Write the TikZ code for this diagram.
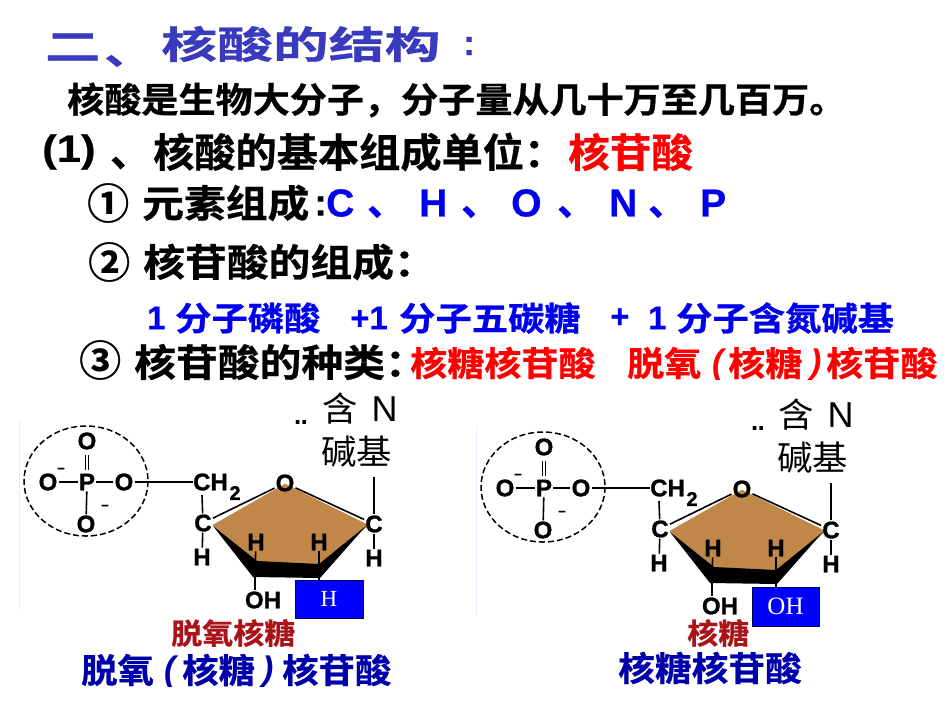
\documentclass[tikz,border=0pt]{standalone}
\usepackage{graphicx}
\usepackage{fontspec}
\setmainfont{Liberation Sans}[BoldFeatures={FakeBold=0.5}]
\newfontfamily\cjk{Noto Sans CJK SC}[BoldFont={Noto Sans CJK SC Bold},BoldFeatures={FakeBold=0.7}]
\newfontfamily\atomf{Liberation Sans}[BoldFeatures={FakeBold=1.2}]
\newfontfamily\boxf{Liberation Serif}
\usepackage{tikz}
\usetikzlibrary{calc}

\definecolor{titleblue}{RGB}{58,58,190}
\definecolor{unitblue}{RGB}{0,0,240}
\definecolor{namered}{RGB}{170,20,25}
\definecolor{namedark}{RGB}{0,0,170}
\definecolor{sugarbrown}{RGB}{192,135,72}

% horizontal stretch of a piece of text
\newcommand{\hs}[2]{\scalebox{#1}[1]{#2}}
% font size in px
\newcommand{\fs}[1]{\fontsize{#1}{#1}\selectfont}

\tikzset{
	txt/.style={anchor=west,inner sep=0pt,font=\bfseries},
	atom/.style={inner sep=1pt,font=\atomf\bfseries\fs{24}},
	bond/.style={line width=1.6pt,black},
	hbox/.style={draw=black!60!blue,fill=blue,text=white,inner sep=0pt,font=\boxf},
}

\begin{document}
\begin{tikzpicture}[x=1pt,y=-1pt]
	\useasboundingbox (0,0) rectangle (950,713);

	% title
	\node[txt,text=titleblue] (t1) at (45,47) {\cjk\fs{38}\hs{1.45}{二}};
	\node[txt,text=titleblue] (t1b) at (104,61) {\cjk\fs{38}\hs{1.3}{、}};
	\node[txt,text=titleblue] (t2) at (161,44) {\cjk\fs{38}\hs{1.47}{核酸的结构}};
	\node[txt,text=titleblue] (t3) at (463,46) {\fs{36}:};

	% text lines
	\node[txt] (l1) at (67,100) {\cjk\fs{35}\hs{1.06}{核酸是生物大分子，分子量从几十万至几百万。}};
	\node[txt] (l2a) at (42,152) {\fs{38}\hs{1.15}{(1)}};
	\node[txt] (l2b) at (110,163) {\cjk\fs{40}{、}};
	\node[txt] (l2c) at (153,152) {\cjk\fs{40}\hs{1.03}{核酸的基本组成单位：}};
	\node[txt,text=red] (l2d) at (568,152) {\cjk\fs{40}\hs{1.04}{核苷酸}};

	\node[txt] (n1) at (87,203) {\cjk\fs{42}①};
	\node[txt] (l3a) at (142,203) {\cjk\fs{38}\hs{1.1}{元素组成}};
	\node[txt] (l3b) at (314,206) {\fs{38}:};
	\node[txt,text=unitblue] (cC) at (326,203) {\fs{39}C};
	\node[txt,text=unitblue] (s1) at (367,212) {\cjk\fs{38}、};
	\node[txt,text=unitblue] (cH) at (419,203) {\fs{39}H};
	\node[txt,text=unitblue] (s2) at (461,212) {\cjk\fs{38}、};
	\node[txt,text=unitblue] (cO) at (511,203) {\fs{39}O};
	\node[txt,text=unitblue] (s3) at (557,212) {\cjk\fs{38}、};
	\node[txt,text=unitblue] (cN) at (609,203) {\fs{39}N};
	\node[txt,text=unitblue] (s4) at (648,212) {\cjk\fs{38}、};
	\node[txt,text=unitblue] (cP) at (700,203) {\fs{39}P};

	\node[txt] (n2) at (88,262) {\cjk\fs{42}②};
	\node[txt] (l4) at (143,262) {\cjk\fs{38}\hs{1.1}{核苷酸的组成：}};

	\node[txt,text=unitblue] (p1) at (147,318) {\fs{33}1};
	\node[txt,text=unitblue] (p2) at (175,318) {\cjk\fs{33}\hs{1.1}{分子磷酸}};
	\node[txt,text=unitblue] (p3) at (350,318) {\fs{33}+1};
	\node[txt,text=unitblue] (p4) at (399,318) {\cjk\fs{33}\hs{1.1}{分子五碳糖}};
	\node[txt,text=unitblue] (p5) at (610,318) {\fs{33}+};
	\node[txt,text=unitblue] (p6) at (648,318) {\fs{33}1};
	\node[txt,text=unitblue] (p7) at (676,318) {\cjk\fs{33}\hs{1.1}{分子含氮碱基}};

	\node[txt] (n3) at (79,360) {\cjk\fs{42}③};
	\node[txt] (l5) at (134,362) {\cjk\fs{38}\hs{1.1}{核苷酸的种类：}};
	\node[txt,text=red] (k1) at (410,363) {\cjk\fs{34}\hs{1.09}{核糖核苷酸}};
	\node[txt,text=red] (k2) at (627,363) {\cjk\fs{34}\hs{1.09}{脱氧}};
	\node[txt,text=red] (k3) at (712,365) {\itshape\fs{34}(};
	\node[txt,text=red] (k4) at (728,363) {\cjk\fs{34}\hs{1.09}{核糖}};
	\node[txt,text=red] (k5) at (810,365) {\itshape\fs{34})};
	\node[txt,text=red] (k6) at (826,363) {\cjk\fs{34}\hs{1.09}{核苷酸}};

	% the two nucleotides
	\foreach \mx/\my/\mt in {0/0/a,457/6/b} {
	\begin{scope}[shift={(\mx,\my)}]
		\draw[blue!8,line width=1pt] (19,420) -- (19,610);
		\draw[line width=1.5pt,dash pattern=on 6pt off 3pt] (86,481) ellipse [x radius=62,y radius=55];

		\coordinate (cl\mt) at (213,525);
		\coordinate (ct\mt) at (285,484);
		\coordinate (cr\mt) at (368,525);
		\coordinate (br\mt) at (319,570);
		\coordinate (bl\mt) at (255,570);
		\coordinate (ch\mt) at (202,495);
		\coordinate (up\mt) at (374,477);
		\filldraw[fill=sugarbrown,draw=sugarbrown] (cl\mt) -- (ct\mt) -- (cr\mt) -- (br\mt) -- (bl\mt) -- cycle;
		\fill[black] (213,526) -- (257,561) -- (319,564) -- (366,526) -- (320,578) -- (253,577) -- cycle;

		\node[atom] (Ot\mt) at (87,441) {O};
		\node[atom] (P\mt) at (87,482) {P};
		\node[atom] (Ol\mt) at (48,482) {O};
		\node[atom] (Or\mt) at (124,482) {O};
		\node[atom] (Ob\mt) at (86,524) {O};
		\node[atom,font=\atomf\bfseries\fs{13}] (m1\mt) at (61,470) {–};
		\node[atom,font=\atomf\bfseries\fs{13}] (m2\mt) at (105,507) {–};
		\node[atom,anchor=west,inner sep=0pt] (CH\mt) at (193,482) {CH};
		\node[atom,font=\atomf\bfseries\fs{20}] (two\mt) at (235,493) {2};
		\node[atom] (Cl\mt) at (203,523) {C};
		\node[atom] (Hl\mt) at (202,557) {H};
		\node[atom] (O\mt) at (285,483) {O};
		\node[atom] (Cr\mt) at (374,524) {C};
		\node[atom] (Hr\mt) at (374,558) {H};
		\node[atom] (Ha\mt) at (256,542) {H};
		\node[atom] (Hb\mt) at (319,542) {H};
		\node[atom] (OH\mt) at (263,600) {OH};

		\draw[bond,double,double distance=1.4pt,line width=1pt,shorten <=4pt,shorten >=3pt] (Ot\mt) -- (P\mt);
		\draw[bond] (Ol\mt) -- (P\mt);
		\draw[bond] (P\mt) -- (Or\mt);
		\draw[bond] (P\mt) -- (Ob\mt);
		\draw[bond] (Or\mt) -- (CH\mt);
		\draw[bond] (ch\mt) -- (Cl\mt);
		\draw[bond] (Cl\mt) -- (Hl\mt);
		\draw[bond] (O\mt) -- (Cl\mt);
		\draw[bond] (O\mt) -- (Cr\mt);
		\draw[bond] (up\mt) -- (Cr\mt);
		\draw[bond] (Cr\mt) -- (Hr\mt);
		\draw[bond] (Ha\mt) -- (bl\mt);
		\draw[bond] (Hb\mt) -- (br\mt);
		\draw[bond] (bl\mt) -- (bl\mt |- OH\mt.north);
	\end{scope}
	}

	% base labels
	\node[txt] (ba1) at (322,408) {\mdseries\cjk\fs{34}\hs{1.04}{含}\hspace{14pt}\fontspec{Liberation Sans}\fs{36}N};
	\node[txt] (ba2) at (321,452) {\mdseries\cjk\fs{34}\hs{1.04}{碱基}};
	\node[txt] (ba3) at (294,422) {\fs{24}..};
	\node[txt] (bb1) at (778,414) {\mdseries\cjk\fs{34}\hs{1.04}{含}\hspace{14pt}\fontspec{Liberation Sans}\fs{36}N};
	\node[txt] (bb2) at (777,458) {\mdseries\cjk\fs{34}\hs{1.04}{碱基}};
	\node[txt] (bb3) at (751,428) {\fs{24}..};

	% exchanged groups
	\node[hbox,minimum width=68pt,minimum height=38pt] (Hbox) at (329,599) {\fs{23}H};
	\node[hbox,minimum width=67pt,minimum height=39pt] (OHbox) at (785.5,606.5) {\fs{25}OH\hspace{11pt}};
	\draw[bond] (bra) -- (bra |- Hbox.north);
	\draw[bond] (brb) -- (brb |- OHbox.north);

	% names
	\node[txt,text=namered] (d1) at (171,633) {\cjk\fs{29}\hs{1.07}{脱氧核糖}};
	\node[txt,text=namedark] (d2) at (81,670) {\cjk\fs{34}\hs{1.07}{脱氧}};
	\node[txt,text=namedark] (d3) at (164,672) {\itshape\fs{34}(};
	\node[txt,text=namedark] (d4) at (182,670) {\cjk\fs{34}\hs{1.07}{核糖}};
	\node[txt,text=namedark] (d5) at (262,672) {\itshape\fs{34})};
	\node[txt,text=namedark] (d6) at (282,670) {\cjk\fs{34}\hs{1.07}{核苷酸}};
	\node[txt,text=namered] (r1) at (687,633) {\cjk\fs{29}\hs{1.07}{核糖}};
	\node[txt,text=namedark] (r2) at (618,668) {\cjk\fs{34}\hs{1.08}{核糖核苷酸}};
\end{tikzpicture}
\end{document}
